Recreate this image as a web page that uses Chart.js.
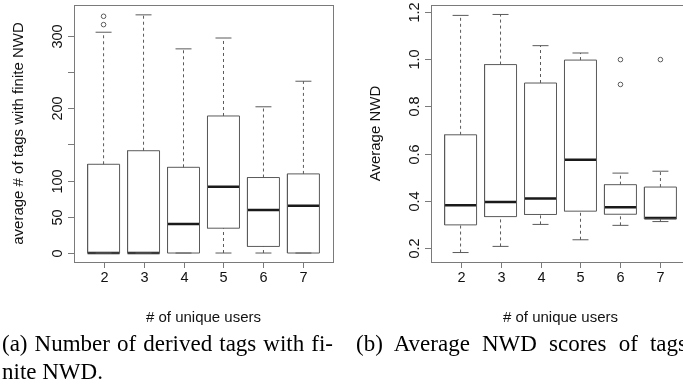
<!DOCTYPE html>
<html>
<head>
<meta charset="utf-8">
<script src="https://cdn.jsdelivr.net/npm/chart.js@4.4.0/dist/chart.umd.min.js"></script>
<style>
body { margin: 0; width: 683px; height: 392px; overflow: hidden; background: #fff; position: relative; }
#left_chart { position: absolute; left: 0; top: 0; }
#right_chart { position: absolute; left: 340px; top: 0; }
.caption { position: absolute; font-family: "Liberation Serif", serif; font-size: 23px; line-height: 28px; color: #000; white-space: nowrap; }
.just { width: 331px; text-align: justify; text-align-last: justify; }
</style>
</head>
<body>
<canvas id="left_chart" width="340" height="335"></canvas>
<canvas id="right_chart" width="360" height="335"></canvas>
<div class="caption just" style="left:2px; top:330px;">(a) Number of derived tags with fi-</div>
<div class="caption" style="left:2px; top:358px;">nite NWD.</div>
<div class="caption just" style="left:356px; top:330px;">(b) Average NWD scores of tags</div>
<script>
// data
var users = ['2', '3', '4', '5', '6', '7']

var tags_low = [0, 0, 0, 0, 0, 0]
var tags_q1 = [0, 0, 0, 34.3, 9.1, 0]
var tags_median = [0, 0, 40.2, 91.5, 59.4, 65.4]
var tags_q3 = [122.6, 141.3, 118.4, 189.3, 104.3, 109.3]
var tags_high = [305, 329, 282, 297, 202, 237.3]
var tags_outliers = [[315.5, 327], [], [], [], [], []]
var tags_ticks = [0, 50, 100, 150, 200, 250, 300]
var tags_tick_labels = ['0', '50', '100', '', '200', '', '300']

var nwd_low = [0.182, 0.208, 0.301, 0.236, 0.297, 0.313]
var nwd_q1 = [0.299, 0.334, 0.343, 0.357, 0.344, 0.324]
var nwd_median = [0.382, 0.396, 0.411, 0.574, 0.374, 0.328]
var nwd_q3 = [0.680, 0.977, 0.899, 0.996, 0.469, 0.459]
var nwd_high = [1.185, 1.189, 1.057, 1.026, 0.518, 0.526]
var nwd_outliers = [[], [], [], [], [0.998, 0.893], [0.998]]
var nwd_ticks = [0.2, 0.4, 0.6, 0.8, 1.0, 1.2]
var nwd_tick_labels = ['0.2', '0.4', '0.6', '0.8', '1.0', '1.2']

var box_half = 0.4
var cap_half = 0.2
var line_col = '#5a5a5a'

function boxDatasets(low, q1, median, q3, high, outliers){
    var box_pts = [], whisker_pts = [], cap_pts = [], median_pts = [], outlier_pts = []
    for (var i = 0; i < users.length; i++){
        var x = i + 1
        box_pts.push({x: x - box_half, y: q1[i]}, {x: x + box_half, y: q1[i]}, {x: x + box_half, y: q3[i]},
                     {x: x - box_half, y: q3[i]}, {x: x - box_half, y: q1[i]}, {x: x, y: null})
        whisker_pts.push({x: x, y: q3[i]}, {x: x, y: high[i]}, {x: x, y: null})
        if (q1[i] > low[i]){
            whisker_pts.push({x: x, y: low[i]}, {x: x, y: q1[i]}, {x: x, y: null})
        }
        cap_pts.push({x: x - cap_half, y: high[i]}, {x: x + cap_half, y: high[i]}, {x: x, y: null})
        cap_pts.push({x: x - cap_half, y: low[i]}, {x: x + cap_half, y: low[i]}, {x: x, y: null})
        median_pts.push({x: x - box_half, y: median[i]}, {x: x + box_half, y: median[i]}, {x: x, y: null})
        for (var o of outliers[i]){
            outlier_pts.push({x: x, y: o})
        }
    }
    var common = {pointRadius: 0, fill: false, spanGaps: false, tension: 0}
    return [
        Object.assign({data: whisker_pts, borderColor: line_col, borderWidth: 1, borderDash: [3, 3]}, common),
        Object.assign({data: cap_pts, borderColor: line_col, borderWidth: 1}, common),
        Object.assign({data: box_pts, borderColor: line_col, borderWidth: 1}, common),
        Object.assign({data: median_pts, borderColor: '#1a1a1a', borderWidth: 2.5}, common),
        {data: outlier_pts, showLine: false, pointRadius: 2.3, pointBorderWidth: 1,
         pointBorderColor: line_col, pointBackgroundColor: 'rgba(0,0,0,0)'}
    ]
}

// R style frame, ticks and titles
var r_axes = {
    id: 'r_axes',
    afterDraw: function(chart){
        var opts = chart.options.plugins.r_axes
        var ctx = chart.ctx
        var area = chart.chartArea
        var xs = chart.scales.x
        var ys = chart.scales.y
        ctx.save()
        ctx.strokeStyle = '#7a7a7a'
        ctx.lineWidth = 1
        ctx.strokeRect(Math.round(area.left) + 0.5, Math.round(area.top) + 0.5,
                       Math.round(area.right - area.left), Math.round(area.bottom - area.top))
        ctx.fillStyle = '#111'
        ctx.font = '14.5px "Liberation Sans", Arial, sans-serif'
        ctx.textAlign = 'center'
        ctx.textBaseline = 'middle'
        for (var i = 0; i < opts.ticks.length; i++){
            var y = Math.round(ys.getPixelForValue(opts.ticks[i])) + 0.5
            ctx.beginPath()
            ctx.moveTo(area.left - 6, y)
            ctx.lineTo(area.left, y)
            ctx.stroke()
            if (opts.labels[i] != ''){
                ctx.save()
                ctx.translate(area.left - 16, y)
                ctx.rotate(-Math.PI / 2)
                ctx.fillText(opts.labels[i], 0, 0)
                ctx.restore()
            }
        }
        for (var j = 0; j < users.length; j++){
            var x = Math.round(xs.getPixelForValue(j + 1)) + 0.5
            ctx.beginPath()
            ctx.moveTo(x, area.bottom)
            ctx.lineTo(x, area.bottom + 6)
            ctx.stroke()
            ctx.fillText(users[j], x, area.bottom + 16)
        }
        ctx.font = '15px "Liberation Sans", Arial, sans-serif'
        ctx.fillText('# of unique users', (area.left + area.right) / 2, area.bottom + 56)
        ctx.save()
        ctx.translate(area.left - 55, (area.top + area.bottom) / 2)
        ctx.rotate(-Math.PI / 2)
        ctx.fillText(opts.title, 0, 0)
        ctx.restore()
        ctx.restore()
    }
}

function makeChart(canvas_id, datasets, y_min, y_max, ticks, labels, title, pad){
    var ctx = document.getElementById(canvas_id).getContext('2d')
    return new Chart(ctx, {
        type: 'line',
        data: {datasets: datasets},
        options: {
            responsive: false,
            animation: false,
            layout: {padding: pad},
            scales: {
                x: {type: 'linear', min: 0.26, max: 6.74, display: false},
                y: {type: 'linear', min: y_min, max: y_max, display: false}
            },
            plugins: {
                legend: {display: false},
                tooltip: {enabled: false},
                r_axes: {ticks: ticks, labels: labels, title: title}
            }
        },
        plugins: [r_axes]
    })
}

makeChart('left_chart', boxDatasets(tags_low, tags_q1, tags_median, tags_q3, tags_high, tags_outliers),
          -12.4, 342.6, tags_ticks, tags_tick_labels, 'average # of tags with finite NWD',
          {left: 74, top: 4, right: 7, bottom: 73})

makeChart('right_chart', boxDatasets(nwd_low, nwd_q1, nwd_median, nwd_q3, nwd_high, nwd_outliers),
          0.142, 1.229, nwd_ticks, nwd_tick_labels, 'Average NWD',
          {left: 91, top: 4, right: 10, bottom: 73})
</script>
</body>
</html>
